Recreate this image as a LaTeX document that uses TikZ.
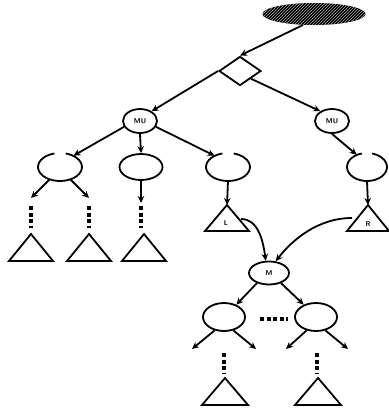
\documentclass[tikz,border=0pt]{standalone}
\usetikzlibrary{shapes.geometric,arrows.meta,patterns,calc}
\begin{document}
\begin{tikzpicture}[x=1pt,y=-1pt,
  lw/.style={line width=1.8pt},
  arr/.style={lw,-{Stealth[length=7pt,width=6.5pt]}},
  ell/.style={ellipse,lw,inner sep=0pt},
  hole/.style={ellipse,inner sep=0pt},
  dots/.style={line width=3.2pt,dash pattern=on 4pt off 2.5pt},
  tri/.style={lw,line join=miter},
  lab/.style={font=\sffamily\bfseries\fontsize{7}{7}\selectfont,inner sep=0pt}
]
\useasboundingbox (0,0) rectangle (388,412);

% top hatched ellipse
\node[hole,minimum width=103pt,minimum height=22pt] (top) at (314,14) {};
\fill[black] (top.center) ellipse[x radius=51.5pt,y radius=11pt];
\fill[pattern=north east lines,pattern color=gray!70] (top.center) ellipse[x radius=51.5pt,y radius=11pt];

% diamond
\node[diamond,lw,draw,minimum width=42pt,minimum height=29pt,inner sep=0pt] (dia) at (240,71) {};

% MU nodes
\node[ell,draw,minimum width=34pt,minimum height=24pt] (mul) at (140,121) {};
\node[lab] at (mul) {MU};
\node[ell,draw,minimum width=34pt,minimum height=24pt] (mur) at (332,121) {};
\node[lab] at (mur) {MU};

% second level ellipses (some with a gap at the top)
\node[hole,minimum width=44pt,minimum height=28pt] (e1) at (60,167) {};
\draw[lw] ([shift={(105:22pt and 14pt)}]e1.center) arc[start angle=105,end angle=435,x radius=22pt,y radius=14pt];
\node[ell,draw,minimum width=43pt,minimum height=26pt] (e2) at (141,167) {};
\node[hole,minimum width=44pt,minimum height=28pt] (e3) at (228,167) {};
\draw[lw] ([shift={(105:22pt and 14pt)}]e3.center) arc[start angle=105,end angle=435,x radius=22pt,y radius=14pt];
\node[hole,minimum width=40pt,minimum height=28pt] (e4) at (367,167) {};
\draw[lw] ([shift={(105:20pt and 14pt)}]e4.center) arc[start angle=105,end angle=435,x radius=20pt,y radius=14pt];

% edges top
\draw[arr] (top.225) -- (dia.north);
\draw[arr] (dia.west) -- (mul.40);
\draw[arr] (dia.south east) -- (mur.140);
\draw[arr] (mul.200) -- (e1.40);
\draw[arr] (mul.south) -- (e2.north);
\draw[arr] (mul.340) -- (e3.140);
\draw[arr] (mur.south) -- (e4.130);

% subtree ends, row 1
\coordinate (a1) at (31,198);  \coordinate (a2) at (89,198);
\coordinate (a3) at (141,203);
\draw[arr] (e1.230) -- (a1);
\draw[arr] (e1.310) -- (a2);
\draw[arr] (e2.south) -- (a3);
\coordinate (t1) at (31,234); \coordinate (t2) at (89,234); \coordinate (t3) at (144,234);
\draw[dots] (31,206) -- (31,228);
\draw[dots] (89,206) -- (89,228);
\draw[dots] (141,206) -- (141,228);
\draw[tri] (t1) -- ++(22,27) -- ++(-44,0) -- cycle;
\draw[tri] (t2) -- ++(22,27) -- ++(-44,0) -- cycle;
\draw[tri] (t3) -- ++(22,27) -- ++(-44,0) -- cycle;

% L and R triangles
\coordinate (tL) at (227,205);
\coordinate (tR) at (368,205);
\draw[arr] (e3.south) -- (tL);
\draw[arr] (e4.south) -- (tR);
\draw[tri] (tL) -- ++(22,26) -- ++(-44,0) -- cycle;
\draw[tri] (tR) -- ++(21,26) -- ++(-42,0) -- cycle;
\node[lab] at (226,223) {L};
\node[lab] at (368,224) {R};

% M node
\node[ell,draw,minimum width=40pt,minimum height=23pt] (m) at (269,273) {};
\node[lab] at (m) {M};
\coordinate (Lout) at (241,219);
\coordinate (Rout) at (352,218);
\draw[arr] (Lout) .. controls (258,219) and (263,240) .. (m.105);
\draw[arr] (Rout) .. controls (318,218) and (292,240) .. (m.60);

% lower ellipses
\node[ell,draw,minimum width=42pt,minimum height=28pt] (f1) at (224,317) {};
\node[ell,draw,minimum width=42pt,minimum height=28pt] (f2) at (316,317) {};
\draw[arr] (m.220) -- (f1.45);
\draw[arr] (m.320) -- (f2.135);
\draw[dots] (260,319) -- (288,319);

\coordinate (b1) at (192,349); \coordinate (b2) at (256,349);
\coordinate (b3) at (286,349); \coordinate (b4) at (348,349);
\draw[arr] (f1.235) -- (b1);
\draw[arr] (f1.305) -- (b2);
\draw[arr] (f2.235) -- (b3);
\draw[arr] (f2.305) -- (b4);
\draw[dots] (224,353) -- (224,373);
\draw[dots] (317,353) -- (317,373);
\coordinate (t4) at (225,378); \coordinate (t5) at (318,378);
\draw[tri] (t4) -- ++(23,27) -- ++(-46,0) -- cycle;
\draw[tri] (t5) -- ++(23,27) -- ++(-46,0) -- cycle;
\end{tikzpicture}
\end{document}
